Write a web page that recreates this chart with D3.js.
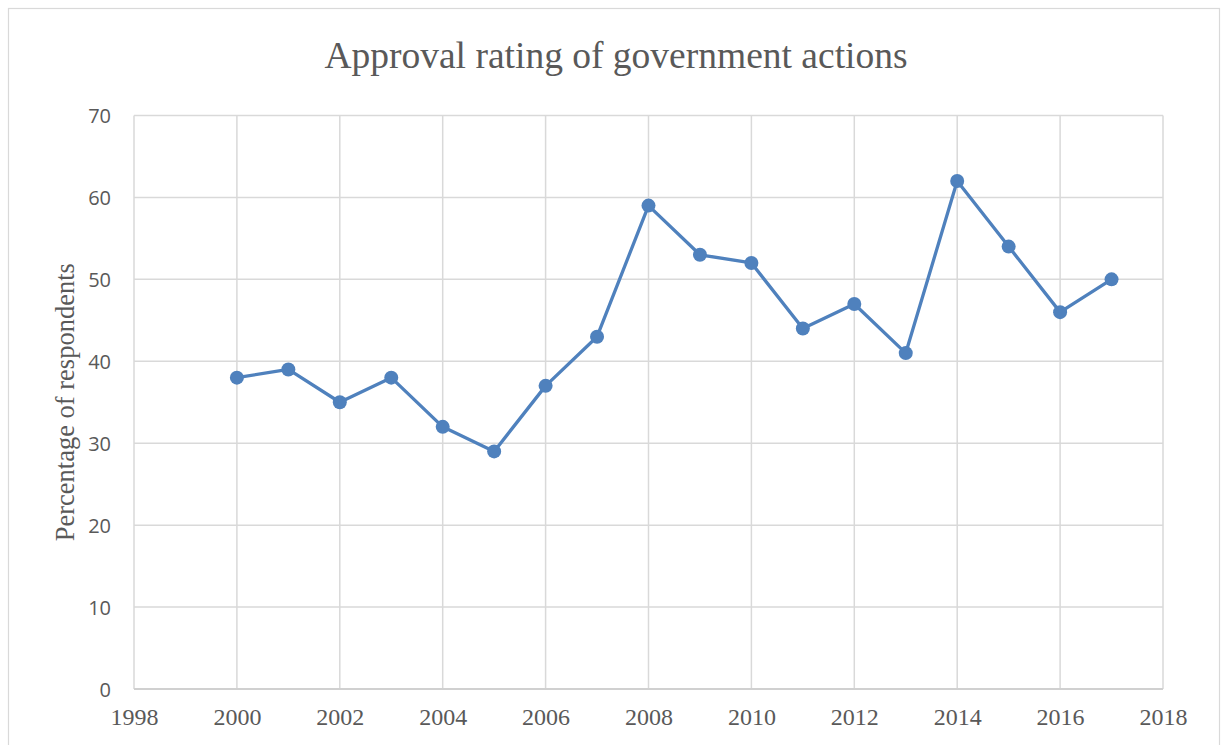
<!DOCTYPE html>
<html>
<head>
<meta charset="utf-8">
<script src="https://cdn.jsdelivr.net/npm/d3@7"></script>
<style>
  html, body { margin: 0; padding: 0; background: #ffffff; }
  svg { display: block; }
</style>
</head>
<body>
<svg id="chart" width="1221" height="745"></svg>
<script>
// Survey years and share of respondents approving of government actions
const years = [2000, 2001, 2002, 2003, 2004, 2005, 2006, 2007, 2008,
               2009, 2010, 2011, 2012, 2013, 2014, 2015, 2016, 2017];
const approval = [38, 39, 35, 38, 32, 29, 37, 43, 59,
                  53, 52, 44, 47, 41, 62, 54, 46, 50];
const xTicks = [1998, 2000, 2002, 2004, 2006, 2008, 2010, 2012, 2014, 2016, 2018];
const yTicks = [0, 10, 20, 30, 40, 50, 60, 70];

const titleText = "Approval rating of government actions";
const yTitleText = "Percentage of respondents";

const svg = d3.select("#chart");
const margin = { left: 134, right: 1163, top: 115.5, bottom: 689 };

const serif = "'Liberation Serif', 'Times New Roman', serif";
const sans = "'Open Sans', 'Noto Sans', sans-serif";
const textColor = "#595959";
const gridColor = "#d9d9d9";
const lineColor = "#4f81bd";

// chart frame
svg.append("rect")
  .attr("x", 8.5).attr("y", 8.5)
  .attr("width", 1211).attr("height", 745)
  .attr("fill", "#ffffff")
  .attr("stroke", "#d9d9d9").attr("stroke-width", 1.2);

const x = d3.scaleLinear().domain([1998, 2018]).range([margin.left, margin.right]);
const y = d3.scaleLinear().domain([0, 70]).range([margin.bottom, margin.top]);

// gridlines
const grid = svg.append("g");
grid.selectAll("line.h").data(yTicks).join("line")
  .attr("class", "h")
  .attr("x1", margin.left).attr("x2", margin.right)
  .attr("y1", d => y(d)).attr("y2", d => y(d))
  .attr("stroke", gridColor).attr("stroke-width", 1.5);
grid.selectAll("line.v").data(xTicks).join("line")
  .attr("class", "v")
  .attr("x1", d => x(d)).attr("x2", d => x(d))
  .attr("y1", margin.top).attr("y2", margin.bottom)
  .attr("stroke", gridColor).attr("stroke-width", 1.5);

// axes (labels only; lines come from the grid)
const yAxis = svg.append("g")
  .attr("transform", `translate(${margin.left},0)`)
  .call(d3.axisLeft(y).tickValues(yTicks).tickSize(0).tickPadding(23).tickFormat(d3.format("d")));
yAxis.select(".domain").remove();
yAxis.selectAll("text")
  .attr("fill", textColor)
  .attr("dy", "0.36em")
  .style("font-family", sans)
  .style("font-size", "20px");

const xAxis = svg.append("g")
  .attr("transform", `translate(0,${margin.bottom})`)
  .call(d3.axisBottom(x).tickValues(xTicks).tickSize(0).tickPadding(19).tickFormat(d3.format("d")));
xAxis.select(".domain").remove();
xAxis.selectAll("text")
  .attr("fill", textColor)
  .style("font-family", serif)
  .style("font-size", "24px");

// bottom axis line
svg.append("line")
  .attr("x1", margin.left).attr("x2", margin.right)
  .attr("y1", y(0)).attr("y2", y(0))
  .attr("stroke", "#d0d0d0").attr("stroke-width", 2);

// series line
const pts = years.map((yr, i) => [yr, approval[i]]);
svg.append("path")
  .datum(pts)
  .attr("fill", "none")
  .attr("stroke", lineColor)
  .attr("stroke-width", 3.3)
  .attr("stroke-linejoin", "round")
  .attr("d", d3.line().x(d => x(d[0])).y(d => y(d[1])));

svg.append("g").selectAll("circle").data(pts).join("circle")
  .attr("cx", d => x(d[0])).attr("cy", d => y(d[1]))
  .attr("r", 7)
  .attr("fill", lineColor);

// title
svg.append("text")
  .attr("x", 616).attr("y", 68)
  .attr("text-anchor", "middle")
  .attr("fill", textColor)
  .style("font-family", serif)
  .style("font-size", "37.5px")
  .text(titleText);

// y-axis title
svg.append("text")
  .attr("transform", `translate(73.5,${(margin.top + margin.bottom) / 2}) rotate(-90)`)
  .attr("text-anchor", "middle")
  .attr("fill", textColor)
  .style("font-family", serif)
  .style("font-size", "26.5px")
  .text(yTitleText);
</script>
</body>
</html>
